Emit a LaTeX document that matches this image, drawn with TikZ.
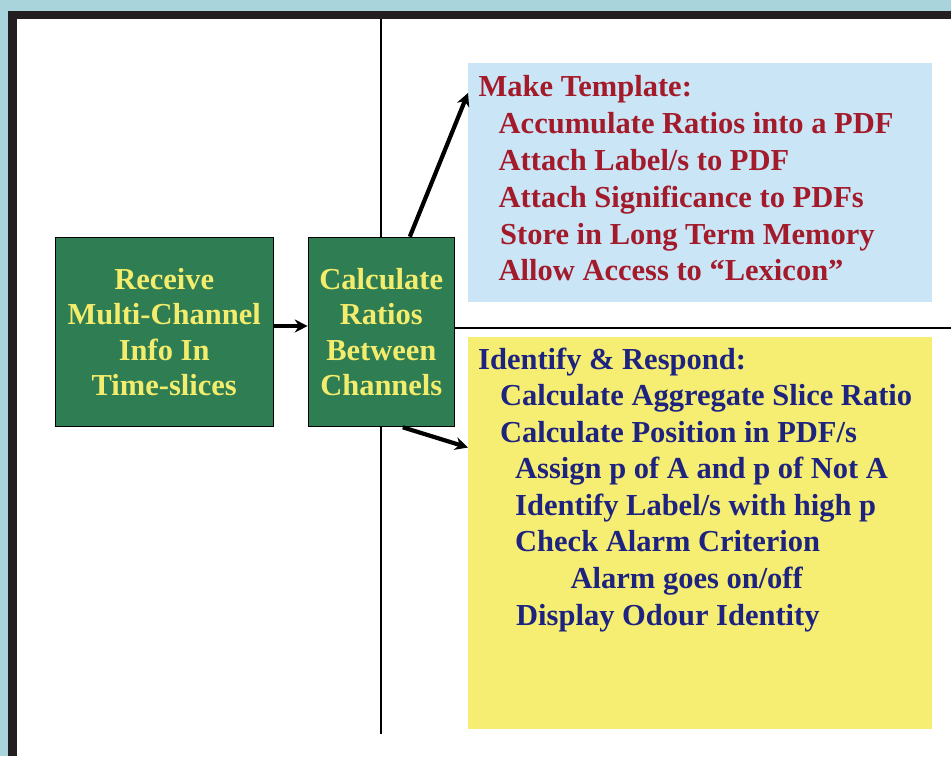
\documentclass[tikz,border=0pt]{standalone}
\usepackage{fontspec}
\setmainfont{Liberation Serif}
\usetikzlibrary{arrows.meta,calc}
\definecolor{bgteal}{HTML}{A9D4DB}
\definecolor{framek}{HTML}{231F20}
\definecolor{boxgreen}{HTML}{2F7D52}
\definecolor{greentext}{HTML}{F4EC6C}
\definecolor{boxblue}{HTML}{C9E5F6}
\definecolor{boxyellow}{HTML}{F5EE72}
\definecolor{redtext}{HTML}{A31B2B}
\definecolor{navytext}{HTML}{1E2380}
\tikzset{
  greenbox/.style={draw=black, line width=1.2pt, fill=boxgreen, text=greentext, inner sep=0pt,
    align=center, font=\bfseries\fontsize{30.5}{35.5}\selectfont},
  panel/.style={inner sep=0pt, minimum width=464pt},
  redline/.style={anchor=base west, inner sep=0pt, text=redtext, font=\bfseries\fontsize{30.5}{36}\selectfont},
  navyline/.style={anchor=base west, inner sep=0pt, text=navytext, font=\bfseries\fontsize{30.5}{36}\selectfont},
  flowarrow/.style={line width=4.2pt, -{Stealth[length=13pt,width=13pt]}},
  divider/.style={line width=1.5pt, black}
}
\begin{document}
\begin{tikzpicture}[x=1pt,y=-1pt]
\useasboundingbox (0,0) rectangle (951,756);
\fill[bgteal] (0,0) rectangle (951,756);
\fill[framek] (8,11) rectangle (951,756);
\fill[white] (16.5,19) rectangle (951,756);

% dividers
\coordinate (vt) at (381,19);
\coordinate (vb) at (381,734);
\draw[divider] (vt) -- (vb);

% panels
\node[panel, fill=boxblue, minimum height=239pt, anchor=north west] (tmpl) at (468,63) {};
\node[panel, fill=boxyellow, minimum height=392pt, anchor=north west] (ident) at (468,336.5) {};

% green boxes
\node[greenbox, minimum width=218pt, minimum height=189.4pt] (recv) at (164.2,332) {Receive\\Multi-Channel\\Info In\\Time-slices};
\node[greenbox, minimum width=146pt, minimum height=189.4pt] (calc) at (381.3,332) {Calculate\\Ratios\\Between\\Channels};

\coordinate (hr) at (951,328);
\draw[divider] ([yshift=4pt]calc.east) -- (hr);

% template text
\node[redline] (t0) at (478.5,96.5) {Make Template:};
\node[redline] (t1) at (498.5,133.5) {Accumulate Ratios into a PDF};
\node[redline] (t2) at (498.5,170.5) {Attach Label/s to PDF};
\node[redline] (t3) at (498.5,207.5) {Attach Significance to PDFs};
\node[redline] (t4) at (500,244.5) {Store in Long Term Memory};
\node[redline] (t5) at (498.5,280.5) {Allow Access to “Lexicon”};

% identify text
\node[navyline] (i0) at (478,369) {Identify \& Respond:};
\node[navyline] (i1) at (500,405.5) {Calculate Aggregate Slice Ratio};
\node[navyline] (i2) at (500,442) {Calculate Position in PDF/s};
\node[navyline] (i3) at (515,478.5) {Assign p of A and p of Not A};
\node[navyline] (i4) at (515,515) {Identify Label/s with high p};
\node[navyline] (i5) at (515,551.5) {Check Alarm Criterion};
\node[navyline] (i6) at (570.5,588) {Alarm goes on/off};
\node[navyline] (i7) at (516,625) {Display Odour Identity};

% arrows
\draw[flowarrow] ([yshift=6pt]recv.east) -- ([yshift=6pt]calc.west);
\draw[flowarrow] ([xshift=28.5pt]calc.north) -- ([yshift=-30pt]tmpl.north west);
\draw[flowarrow] ([xshift=21.5pt]calc.south) -- ([yshift=-111pt]ident.north west);
\end{tikzpicture}
\end{document}
